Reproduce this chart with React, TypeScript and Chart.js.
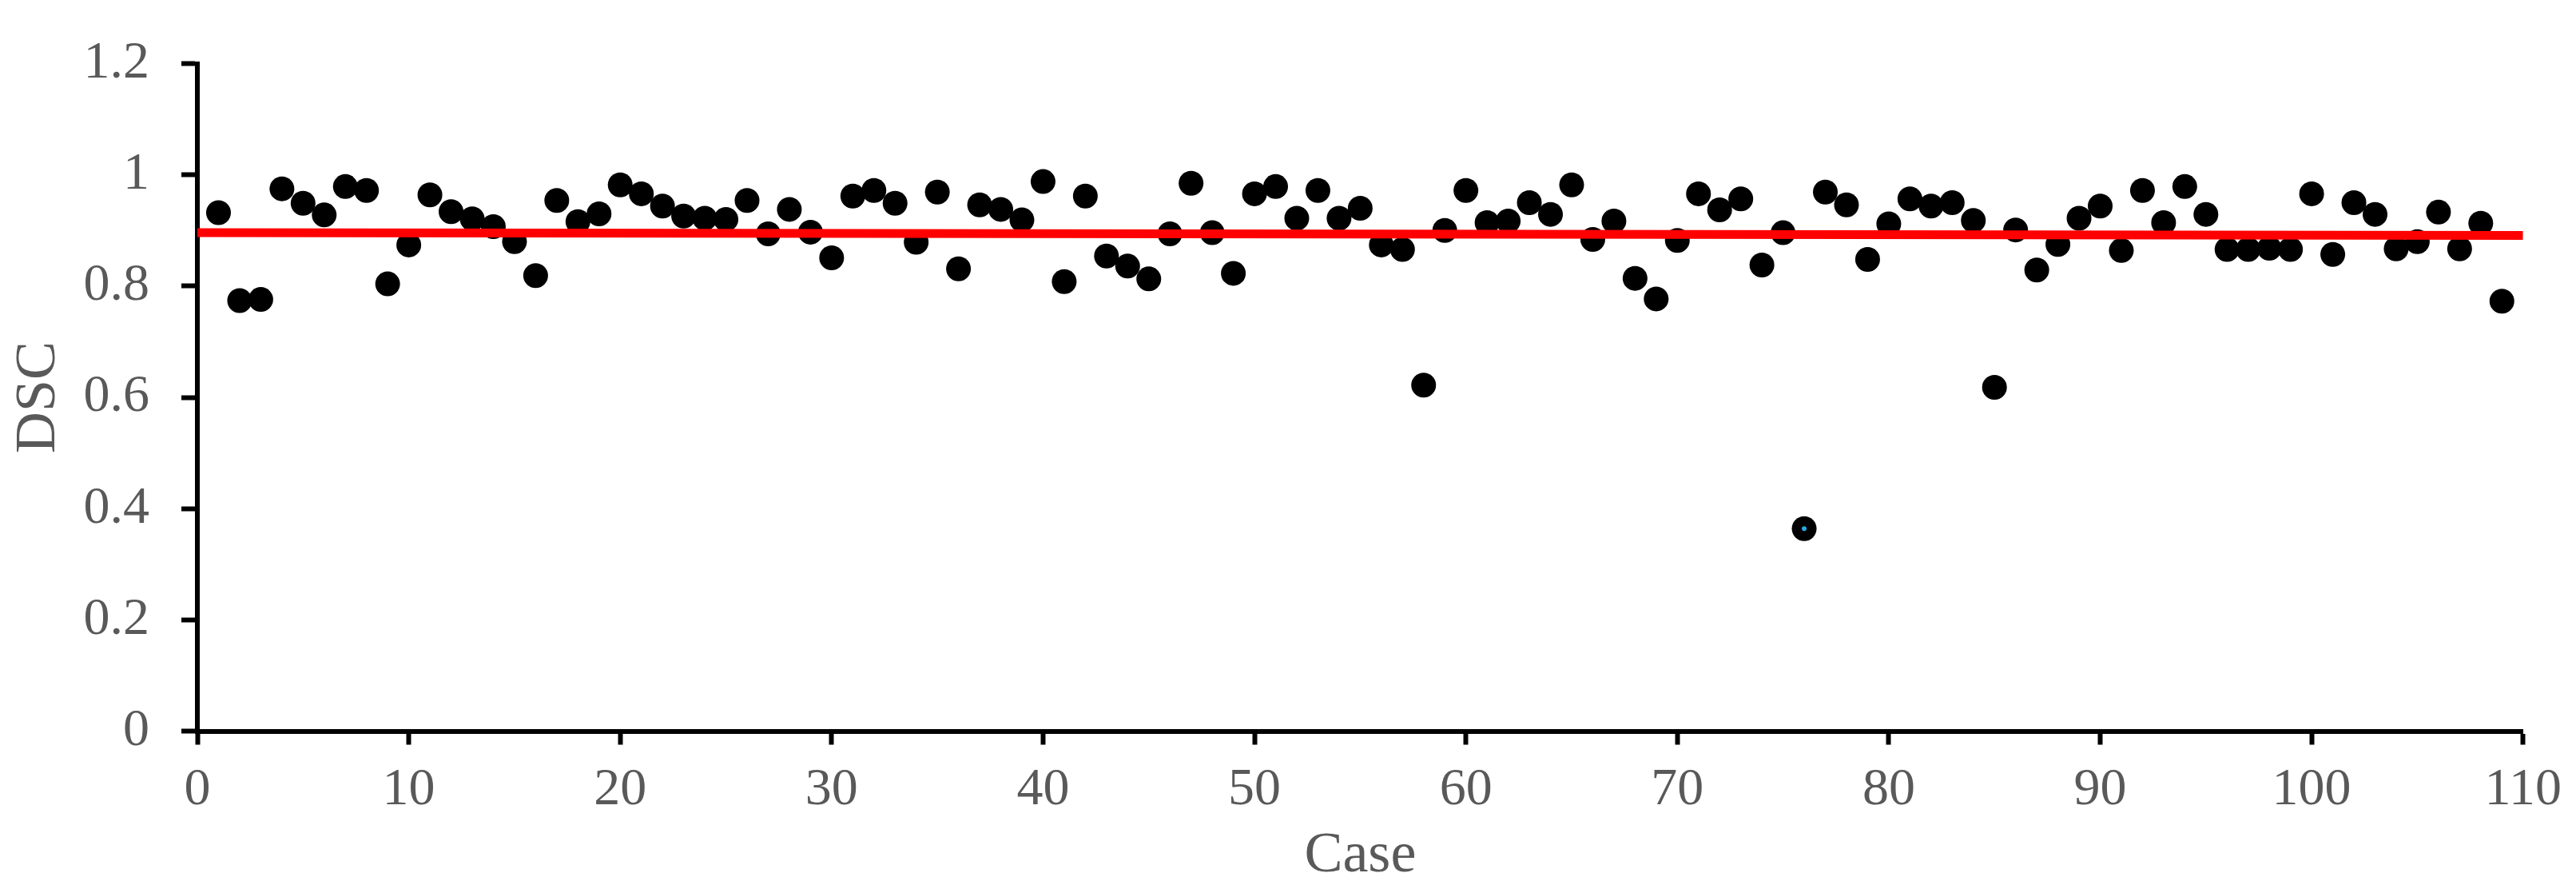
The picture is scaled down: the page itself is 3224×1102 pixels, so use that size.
import React, { useEffect, useRef } from "react";
import { Chart, registerables } from "chart.js";

Chart.register(...registerables);

// Case numbers 1..109 and DSC values
const dscValues: number[] = [
  0.932, 0.774, 0.776, 0.975, 0.949, 0.928, 0.979, 0.972, 0.804, 0.874,
  0.964, 0.934, 0.921, 0.907, 0.880, 0.819, 0.954, 0.916, 0.930, 0.982,
  0.966, 0.944, 0.926, 0.922, 0.920, 0.954, 0.894, 0.938, 0.897, 0.851,
  0.962, 0.972, 0.949, 0.879, 0.969, 0.831, 0.946, 0.938, 0.919, 0.988,
  0.808, 0.962, 0.854, 0.836, 0.813, 0.894, 0.985, 0.896, 0.823, 0.966,
  0.979, 0.922, 0.972, 0.922, 0.940, 0.874, 0.866, 0.622, 0.900, 0.972,
  0.914, 0.917, 0.950, 0.929, 0.982, 0.884, 0.917, 0.814, 0.777, 0.882,
  0.966, 0.937, 0.957, 0.838, 0.896, 0.364, 0.969, 0.946, 0.848, 0.912,
  0.957, 0.944, 0.950, 0.918, 0.618, 0.901, 0.829, 0.875, 0.922, 0.944,
  0.864, 0.972, 0.914, 0.979, 0.929, 0.866, 0.866, 0.868, 0.866, 0.966,
  0.857, 0.950, 0.929, 0.867, 0.880, 0.933, 0.867, 0.913, 0.773,
];
const caseNumbers: number[] = dscValues.map((_, i) => i + 1);

// Red reference line end points
const lineX: number[] = [0, 110];
const lineY: number[] = [0.896, 0.891];

// Highlighted case (small blue centre in the reference)
const highlightCase: number[] = [76];

const xTicks = { min: 0, max: 110, step: 10 };
const yTicks = { min: 0, max: 1.2, step: 0.2 };

const FONT = '"Liberation Serif", "Times New Roman", serif';
const GREY = "#595959";

export default function App() {
  const canvasRef = useRef<HTMLCanvasElement | null>(null);

  useEffect(() => {
    const canvas = canvasRef.current;
    if (!canvas) return;
    const chart = new Chart(canvas, {
      type: "scatter",
      data: {
        datasets: [
          {
            type: "line",
            label: "Mean",
            data: lineX.map((x, i) => ({ x, y: lineY[i] })),
            borderColor: "#ff0000",
            borderWidth: 11,
            pointRadius: 0,
            fill: false,
            order: 1,
          } as any,
          {
            label: "DSC",
            data: caseNumbers.map((c, i) => ({ x: c, y: dscValues[i] })),
            backgroundColor: "#000000",
            borderColor: "#000000",
            borderWidth: 0,
            pointRadius: 15.5,
            pointHoverRadius: 15.5,
            order: 2,
          },
          {
            label: "Highlight",
            data: highlightCase.map((c) => ({ x: c, y: dscValues[c - 1] })),
            backgroundColor: "#2aa8e0",
            borderWidth: 0,
            pointRadius: 3,
            order: 0,
          },
        ],
      },
      options: {
        animation: false,
        responsive: false,
        devicePixelRatio: 1,
        layout: { padding: { left: 0, top: 44.5, right: 64, bottom: 0 } },
        plugins: {
          legend: { display: false },
          tooltip: { enabled: false },
        },
        scales: {
          x: {
            type: "linear",
            min: xTicks.min,
            max: xTicks.max,
            afterFit: (scale: any) => {
              scale.height = 187.5;
            },
            ticks: {
              stepSize: xTicks.step,
              color: GREY,
              font: { family: FONT, size: 66 },
              padding: 18,
              maxRotation: 0,
            },
            grid: {
              drawOnChartArea: false,
              drawTicks: true,
              tickLength: 17,
              tickWidth: 6,
              tickColor: "#000",
              color: "#000",
            },
            border: { display: true, color: "#000", width: 6 },
            title: {
              display: true,
              text: "Case",
              color: GREY,
              font: { family: FONT, size: 72 },
              padding: { top: 0, bottom: -12 },
            },
          },
          y: {
            type: "linear",
            min: yTicks.min,
            max: yTicks.max,
            afterFit: (scale: any) => {
              scale.width = 247;
            },
            ticks: {
              stepSize: yTicks.step,
              color: GREY,
              font: { family: FONT, size: 66 },
              padding: 40,
              callback: (v: any) => String(Number(Number(v).toFixed(1))),
            },
            grid: {
              drawOnChartArea: false,
              drawTicks: true,
              tickLength: 20,
              tickWidth: 6,
              tickColor: "#000",
              color: "#000",
            },
            border: { display: true, color: "#000", width: 6 },
            title: {
              display: true,
              text: "DSC",
              color: GREY,
              font: { family: FONT, size: 72 },
              padding: { top: 6, bottom: 0 },
            },
          },
        },
      },
    });
    return () => chart.destroy();
  }, []);

  return (
    <div
      style={{
        position: "fixed",
        left: 0,
        top: 0,
        width: 3224,
        height: 1102,
        background: "#fff",
      }}
    >
      <canvas ref={canvasRef} width={3224} height={1102} />
    </div>
  );
}
